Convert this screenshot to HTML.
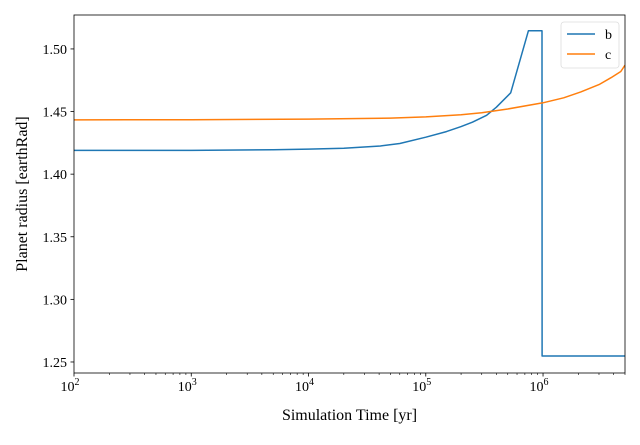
<!DOCTYPE html>
<html><head><meta charset="utf-8"><style>
body{margin:0;background:#fff;}
svg text{font-family:"Liberation Serif",serif;fill:#000;}
</style></head><body>
<svg id="chart" width="640" height="440">
<g id="plot"></g>
</svg>
<script>
const xTicks=[2,3,4,5,6];
const yTicks=[1.25,1.30,1.35,1.40,1.45,1.50];
const seriesNames=["b","c"];
const bYears=[1e2,1e3,5e3,1e4,2e4,4.1e4,6e4,1e5,1.5e5,2e5,2.5e5,3.3e5,4e5,5.3e5,7.5e5,9.8e5,9.81e5,5e6];
const bValues=[1.419,1.419,1.4195,1.420,1.4207,1.4225,1.4245,1.4295,1.434,1.438,1.4415,1.447,1.4535,1.465,1.5145,1.5145,1.2548,1.2548];
const cYears=[1e2,1e3,1e4,5e4,1e5,2e5,3e5,5e5,1e6,1.5e6,2.1e6,3e6,3.8e6,4.6e6,5e6];
const cValues=[1.4433,1.4435,1.444,1.4448,1.4457,1.4475,1.449,1.452,1.457,1.461,1.4657,1.4715,1.477,1.482,1.487];
const colors=["#1f77b4","#ff7f0e"];
const L=74,R=625,T=15,B=373;
const xmin=2,xmax=Math.log10(5e6),ymin=1.2412,ymax=1.5271;
const sx=v=>L+(Math.log10(v)-xmin)/(xmax-xmin)*(R-L);
const sy=v=>B-(v-ymin)/(ymax-ymin)*(B-T);
const NS="http://www.w3.org/2000/svg";
const g=document.getElementById('plot');
function mk(t,a,p){const e=document.createElementNS(NS,t);for(const k in a)e.setAttribute(k,a[k]);(p||g).appendChild(e);return e;}
mk('clipPath',{id:'clip'}).appendChild(mk('rect',{x:L,y:T,width:R-L,height:B-T}));
[[bYears,bValues],[cYears,cValues]].forEach((s,i)=>{
 const d=s[0].map((x,j)=>(j?'L':'M')+sx(x).toFixed(1)+','+sy(s[1][j]).toFixed(1)).join('');
 const p=mk('path',{d:d,fill:'none',stroke:colors[i],'stroke-width':1.5,'stroke-linejoin':'round','clip-path':'url(#clip)'});
 
 
});
mk('rect',{x:L,y:T,width:R-L,height:B-T,fill:'none',stroke:'#000','stroke-width':0.8});
xTicks.forEach(e=>{
 const x=sx(Math.pow(10,e));
 mk('line',{x1:x,x2:x,y1:B,y2:B+3.5,stroke:'#000','stroke-width':0.8});
 const t=mk('text',{x:x-4,y:B+18,'font-size':14,'text-anchor':'middle'});
 
 
 t.textContent='10';
 const s=mk('tspan',{dy:-6,'font-size':10},t);s.textContent=e;
});
for(let e=2;e<=6;e++)for(let m=2;m<=9;m++){const v=m*Math.pow(10,e);if(v>5e6)break;const x=sx(v);
 mk('line',{x1:x,x2:x,y1:B,y2:B+2,stroke:'#000','stroke-width':0.6});}
yTicks.forEach(v=>{
 const y=sy(v);
 mk('line',{x1:L-3.5,x2:L,y1:y,y2:y,stroke:'#000','stroke-width':0.8});
 const t=mk('text',{x:L-7,y:y+5,'font-size':14,'text-anchor':'end'});
 
 
 t.textContent=v.toFixed(2);
});
const xt=mk('text',{x:(L+R)/2,y:420,'font-size':16,'text-anchor':'middle'});


xt.textContent='Simulation Time [yr]';
const yt=mk('text',{x:0,y:0,'font-size':16,'text-anchor':'middle',transform:'translate(27,194) rotate(-90)'});


yt.textContent='Planet radius [earthRad]';
const lg=mk('g',{});


mk('rect',{x:561,y:22,width:58,height:46,rx:3,fill:'#fff',stroke:'#ddd','stroke-width':0.8},lg);
seriesNames.forEach((n,i)=>{
 const y=34+i*20;
 mk('line',{x1:567,x2:595,y1:y,y2:y,stroke:colors[i],'stroke-width':1.5},lg);
 const t=mk('text',{x:605,y:y+5,'font-size':14},lg);
 
 
 t.textContent=n;
});
</script>
</body></html>
